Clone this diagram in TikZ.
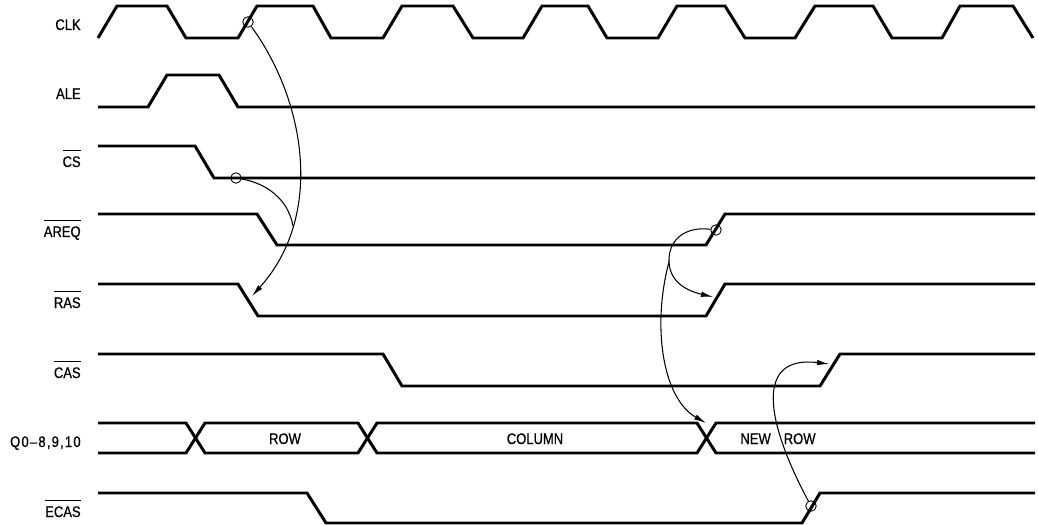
\documentclass[tikz,border=0pt]{standalone}
\usepackage{fontspec}
\usepackage{tikz}
\usetikzlibrary{arrows.meta}
\newfontfamily\sigfont[FakeStretch=0.85, FakeBold=0.7]{Liberation Sans}
\newcommand{\actlow}[1]{$\overline{\raisebox{0pt}[7.9pt]{#1}}$}

\begin{document}
\begin{tikzpicture}[
    x=0.2mm, y=-0.2mm,
    sigwave/.style={line width=1.7pt, black},
    edgearrow/.style={line width=0.6pt, -{Latex[length=2.4mm, width=1.1mm]}},
    edgeline/.style={line width=0.6pt},
    edgedot/.style={draw, circle, line width=0.5pt, minimum size=2.1mm, inner sep=0pt},
    siglabel/.style={anchor=base east, inner sep=0pt, font=\sigfont\fontsize{8.7}{10}\selectfont},
    buslabel/.style={anchor=base, inner sep=0pt, font=\sigfont\fontsize{8.7}{10}\selectfont}
]
\useasboundingbox (0,0) rectangle (1038,525);

% === Signal names ===
\node[siglabel] (clk) at (81,30) {CLK};
\node[siglabel] (ale) at (81,99) {ALE};
\node[siglabel] (cs) at (81,167) {\actlow{CS}};
\node[siglabel] (areq) at (81,237) {\actlow{AREQ}};
\node[siglabel] (ras) at (81,308) {\actlow{RAS}};
\node[siglabel] (cas) at (81,378) {\actlow{CAS}};
\node[siglabel] (q) at (81,447) {\addfontfeature{LetterSpace=8}Q0\textendash8,9,10};
\node[siglabel] (ecas) at (81,517) {\actlow{ECAS}};

% === Waveforms ===
\draw[sigwave] (98,38) -- (117,6) -- (167,6) -- (186,38) -- (238,38) -- (257,6) -- (313,6) -- (331,38)
    -- (383,38) -- (402,6) -- (453,6) -- (473,38) -- (523,38) -- (542,6) -- (588,6) -- (607,38)
    -- (658,38) -- (677,6) -- (725,6) -- (745,38) -- (795,38) -- (815,6) -- (873,6) -- (892,38)
    -- (942,38) -- (960,6) -- (1013,6) -- (1033,38);
\draw[sigwave] (98,107) -- (148,107) -- (167,75) -- (219,75) -- (238,107) -- (1035,107);
\draw[sigwave] (98,146) -- (195,146) -- (214,178) -- (1035,178);
\draw[sigwave] (98,214) -- (257,214) -- (277,245) -- (706,245) -- (725,214) -- (1035,214);
\draw[sigwave] (98,284) -- (238,284) -- (258,316) -- (706,316) -- (725,284) -- (1035,284);
\draw[sigwave] (98,354) -- (383,354) -- (402,386) -- (820,386) -- (840,354) -- (1035,354);
% address bus
\draw[sigwave] (98,423) -- (186,423) -- (205,453) -- (358,453) -- (377,423) -- (697,423) -- (716,453) -- (1035,453);
\draw[sigwave] (98,453) -- (186,453) -- (205,423) -- (358,423) -- (377,453) -- (697,453) -- (716,423) -- (1035,423);
\draw[sigwave] (98,493) -- (307,493) -- (326,523) -- (802,523) -- (820,493) -- (1035,493);

% bus contents
\node[buslabel] (rowtxt) at (285,444) {ROW};
\node[buslabel] (coltxt) at (535,444) {COLUMN};
\node[buslabel] (newrowtxt) at (778,444) {NEW\hskip 2.6mm ROW};

% === Cause and effect ===
\node[edgedot] (clkc) at (248,22) {};
\node[edgedot] (csc) at (236,178) {};
\node[edgedot] (areqc) at (716,230) {};
\node[edgedot] (ecasc) at (811,506) {};

\coordinate (rasfall) at (252,296);
\coordinate (merge) at (293,226);
\coordinate (split) at (669,262);
\coordinate (rasrise) at (713,297);
\coordinate (qnew) at (706,423);
\coordinate (casrise) at (829,364);

\draw[edgearrow] (clkc) .. controls (305,100) and (325,215) .. (rasfall);
\draw[edgeline] (csc) .. controls (265,183) and (288,198) .. (merge);

\draw[edgeline] (areqc) .. controls (685,226) and (668,240) .. (split);
\draw[edgearrow] (split) .. controls (670,285) and (692,292) .. (rasrise);
\draw[edgearrow] (split) .. controls (652,325) and (662,398) .. (qnew);

\draw[edgearrow] (ecasc) .. controls (765,420) and (755,355) .. (casrise);

\end{tikzpicture}
\end{document}
